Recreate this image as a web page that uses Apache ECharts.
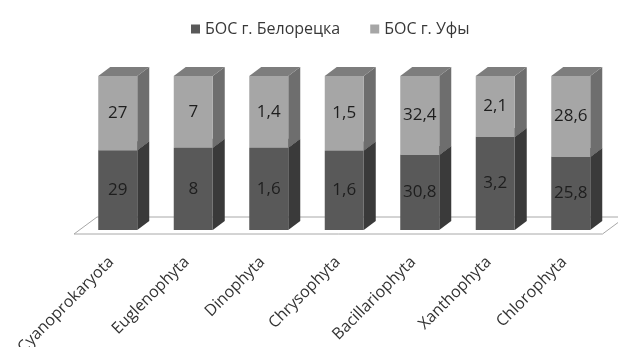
<!DOCTYPE html>
<html>
<head>
<meta charset="utf-8">
<script src="https://cdn.jsdelivr.net/npm/echarts@6/dist/echarts.min.js"></script>
<style>
  html, body { margin: 0; padding: 0; background: #fff; }
  #main { width: 618px; height: 347px; }
</style>
</head>
<body>
<div id="main"></div>
<script>
// отделы водорослей
var categories = ['Cyanoprokaryota', 'Euglenophyta', 'Dinophyta', 'Chrysophyta', 'Bacillariophyta', 'Xanthophyta', 'Chlorophyta'];
// БОС г. Белорецка
var beloretsk = [29, 8, 1.6, 1.6, 30.8, 3.2, 25.8];
// БОС г. Уфы
var ufa = [27, 7, 1.4, 1.5, 32.4, 2.1, 28.6];

var FONT = '"Open Sans", "Noto Sans", sans-serif';
var HALF = 19.5;      // half width of the front face
var DX = 12, DY = -9; // depth of the box

// 100% stacked: [index, from %, to %, raw value]
function stackData(vals, below) {
  return vals.map(function (v, i) {
    var total = beloretsk[i] + ufa[i];
    var from = below ? below[i] / total * 100 : 0;
    return [i, from, from + v / total * 100, v];
  });
}

function fmt(v) { return String(v).replace('.', ','); }

function boxRender(front, side, top) {
  return function (params, api) {
    var p0 = api.coord([api.value(0), api.value(1)]);
    var p1 = api.coord([api.value(0), api.value(2)]);
    var x0 = p0[0] - HALF, x1 = p0[0] + HALF;
    var yb = p0[1], yt = p1[1];
    return {
      type: 'group',
      children: [
        { type: 'polygon', shape: { points: [[x1, yb], [x1 + DX, yb + DY], [x1 + DX, yt + DY], [x1, yt]] }, style: { fill: side } },
        { type: 'polygon', shape: { points: [[x0, yt], [x1, yt], [x1 + DX, yt + DY], [x0 + DX, yt + DY]] }, style: { fill: top } },
        { type: 'rect', shape: { x: x0, y: yt, width: x1 - x0, height: yb - yt }, style: { fill: front } },
        { type: 'text', style: { text: fmt(api.value(3)), x: p0[0], y: (yb + yt) / 2, align: 'center', verticalAlign: 'middle', fill: '#1e1e1e', font: '17px ' + FONT } }
      ]
    };
  };
}

var myChart = echarts.init(document.getElementById('main'));
myChart.setOption({
  backgroundColor: '#fff',
  animation: false,
  legend: {
    top: 16,
    left: 186,
    itemWidth: 9,
    itemHeight: 9,
    itemGap: 30,
    icon: 'rect',
    data: ['БОС г. Белорецка', 'БОС г. Уфы'],
    textStyle: { fontFamily: FONT, fontSize: 16, color: '#383838' }
  },
  grid: { left: 80, right: 9.5, top: 76, bottom: 117, outerBoundsMode: 'none' },
  xAxis: {
    type: 'category',
    data: categories,
    axisLine: { show: false },
    axisTick: { show: false },
    axisLabel: {
      rotate: 45,
      margin: 23,
      padding: [0, 9, 0, 0],
      interval: 0,
      fontFamily: FONT,
      fontSize: 16,
      color: '#333'
    }
  },
  yAxis: { type: 'value', min: 0, max: 100, show: false },
  series: [
    {
      // пол диаграммы
      type: 'custom',
      silent: true,
      data: [[0, 0]],
      renderItem: function (params, api) {
        var a = api.coord([0, 0]);
        var b = api.coord([categories.length - 1, 0]);
        var bw = api.size([1, 0])[0];
        var L = a[0] - bw / 2, R = b[0] + bw / 2, y = a[1];
        return {
          type: 'polygon',
          shape: { points: [[L - 6, y + 4], [R - 6, y + 4], [R + 17, y - 13], [L + 17, y - 13]] },
          style: { fill: '#fff', stroke: '#a8a8a8', lineWidth: 1 }
        };
      }
    },
    {
      name: 'БОС г. Белорецка',
      type: 'custom',
      itemStyle: { color: '#595959' },
      data: stackData(beloretsk),
      renderItem: boxRender('#595959', '#3a3a3a', '#4a4a4a')
    },
    {
      name: 'БОС г. Уфы',
      type: 'custom',
      itemStyle: { color: '#a6a6a6' },
      data: stackData(ufa, beloretsk),
      renderItem: boxRender('#a6a6a6', '#6e6e6e', '#7d7d7d')
    }
  ]
});
</script>
</body>
</html>
